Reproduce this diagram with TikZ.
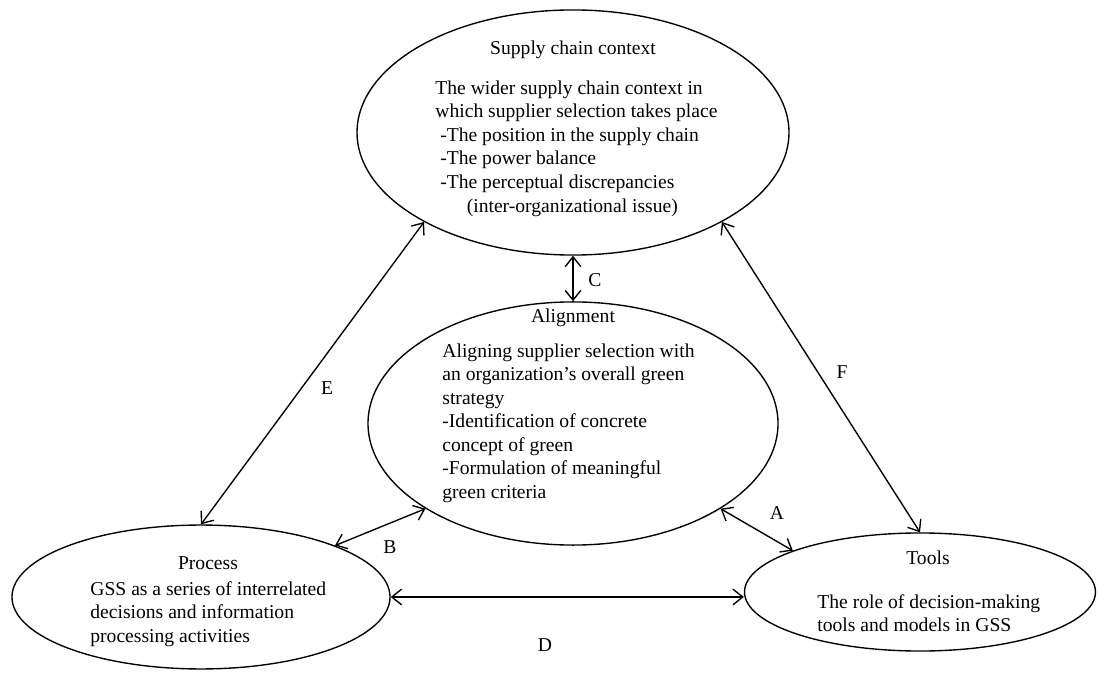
\documentclass[tikz,border=0pt]{standalone}
\usepackage{fontspec}
\setmainfont{Liberation Serif}
\usetikzlibrary{shapes.geometric,arrows.meta,positioning}

\begin{document}
\begin{tikzpicture}[x=0.51pt,y=-0.51pt,
  ell/.style={draw,ellipse,inner sep=0pt,line width=0.7pt},
  txt/.style={inner sep=0pt,align=left,font=\fontsize{10}{12}\selectfont},
  lbl/.style={inner sep=0pt,font=\fontsize{10}{12}\selectfont},
  link/.style={{Straight Barb[length=5pt,width=8pt]}-{Straight Barb[length=5pt,width=8pt]},line width=0.7pt}]
\useasboundingbox (0,0) rectangle (1098,673);

% the four areas
\node[ell,minimum width=220.3pt,minimum height=125pt] (sc) at (573,132.5) {};
\node[ell,minimum width=209.1pt,minimum height=124pt] (al) at (573,423.5) {};
\node[ell,minimum width=192.8pt,minimum height=73.4pt] (pr) at (201,597) {};
\node[ell,minimum width=179pt,minimum height=60.2pt] (tl) at (920,592) {};

% texts
\node[txt] (sc-title) at (573,50) {Supply chain context};
\node[txt,anchor=west] (sc-body) at (435,148.5) {The wider supply chain context in\\
which supplier selection takes place\\
\ -The position in the supply chain\\
\ -The power balance\\
\ -The perceptual discrepancies\\
\hspace{16pt}(inter-organizational issue)};

\node[txt] (al-title) at (573,318) {Alignment};
\node[txt,anchor=west] (al-body) at (442,423) {Aligning supplier selection with\\
an organization’s overall green\\
strategy\\
-Identification of concrete\\
concept of green\\
-Formulation of meaningful\\
green criteria};

\node[txt] (pr-title) at (208,563) {Process};
\node[txt,anchor=west] (pr-body) at (90,614) {GSS as a series of interrelated\\
decisions and information\\
processing activities};

\node[txt] (tl-title) at (928,558) {Tools};
\node[txt,anchor=west] (tl-body) at (817,613) {The role of decision-making\\
tools and models in GSS};

% relations
\draw[link] (sc.south) -- (al.north);
\draw[link] (sc.211) -- (pr.north);
\draw[link] (sc.329) -- (tl.north);
\draw[link] (pr.21) -- (al.210);
\draw[link] (al.330) -- (tl.162);
\draw[link] (pr.east) -- (pr.east -| tl.west);

\node[lbl] (lbl-c) at (595,280) {C};
\node[lbl] (lbl-e) at (327,388) {E};
\node[lbl] (lbl-f) at (842,372) {F};
\node[lbl] (lbl-b) at (390,547) {B};
\node[lbl] (lbl-a) at (777,513) {A};
\node[lbl] (lbl-d) at (545,645) {D};
\end{tikzpicture}
\end{document}
